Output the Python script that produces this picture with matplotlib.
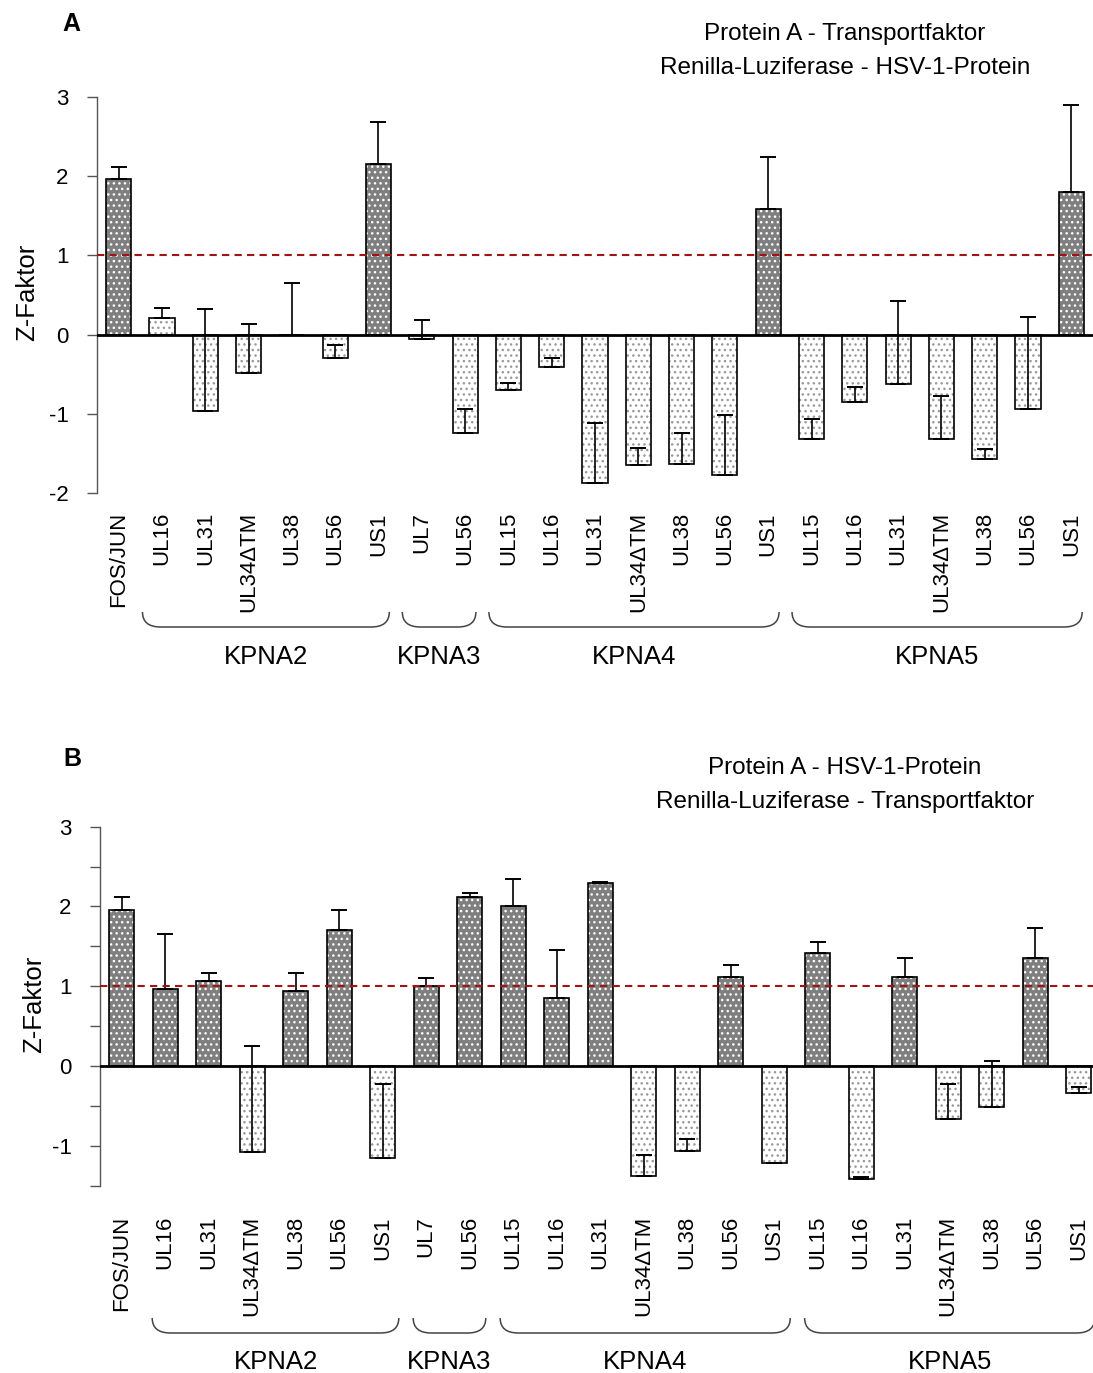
import matplotlib
matplotlib.use("Agg")
import matplotlib.pyplot as plt
import matplotlib.transforms as mtransforms
from matplotlib.path import Path
from matplotlib.patches import PathPatch
import numpy as np

plt.rcParams['font.family'] = ['Liberation Sans', 'DejaVu Sans']
plt.rcParams['hatch.linewidth'] = 1.0

# ---------------- data ----------------
labels = ["FOS/JUN",
          "UL16", "UL31", "UL34\u0394TM", "UL38", "UL56", "US1",
          "UL7", "UL56",
          "UL15", "UL16", "UL31", "UL34\u0394TM", "UL38", "UL56", "US1",
          "UL15", "UL16", "UL31", "UL34\u0394TM", "UL38", "UL56", "US1"]
groups = ["KPNA2", "KPNA3", "KPNA4", "KPNA5"]
group_first = [1, 7, 9, 16]
group_last = [6, 8, 15, 22]

values_a = [1.96, 0.21, -0.96, -0.48, -0.01, -0.29, 2.16,
            -0.06, -1.24,
            -0.70, -0.41, -1.87, -1.65, -1.63, -1.77, 1.58,
            -1.32, -0.85, -0.63, -1.32, -1.57, -0.94, 1.80]
errors_a = [0.16, 0.13, 1.28, 0.61, 0.66, 0.16, 0.53,
            0.25, 0.30,
            0.09, 0.12, 0.75, 0.22, 0.39, 0.75, 0.66,
            0.26, 0.19, 1.05, 0.55, 0.12, 1.16, 1.10]

values_b = [1.96, 0.96, 1.06, -1.08, 0.94, 1.70, -1.15,
            1.00, 2.12,
            2.00, 0.85, 2.30, -1.38, -1.06, 1.12, -1.21,
            1.42, -1.42, 1.12, -0.66, -0.51, 1.36, -0.34]
errors_b = [0.16, 0.70, 0.11, 1.33, 0.23, 0.26, 0.93,
            0.10, 0.05,
            0.34, 0.60, 0.01, 0.26, 0.14, 0.15, 0.0,
            0.13, 0.03, 0.24, 0.44, 0.57, 0.37, 0.08]

titles_a = ["Protein A - Transportfaktor", "Renilla-Luziferase - HSV-1-Protein"]
titles_b = ["Protein A - HSV-1-Protein", "Renilla-Luziferase - Transportfaktor"]
threshold = 1.0

# ---------------- figure ----------------
W, H = 1093, 1373
fig = plt.figure(figsize=(W / 100, H / 100), dpi=100)


def fx(px):
    return px / W


def fy(py):
    return 1 - py / H


DARK = '#7f7f7f'


def draw_panel(ax, values, errors, dark_thresh, xlim, ylim, minor, label_top,
               brace_y, brace_off, group_y, ylabel_xy, letter, letter_xy,
               titles, title_ys):
    x = np.arange(len(values))
    vals = np.array(values)
    errs = np.array(errors)
    dark = vals > dark_thresh
    width = 0.58
    for xi, v, d in zip(x, vals, dark):
        if d:
            ax.bar(xi, v, width=width, color=DARK, edgecolor='white',
                   hatch='...', linewidth=0, zorder=2)
        else:
            ax.bar(xi, v, width=width, color='white', edgecolor='#9a9a9a',
                   hatch='...', linewidth=0, zorder=2)
    ax.bar(x, vals, width=width, fill=False, edgecolor='black',
           linewidth=1.2, zorder=3)
    ax.errorbar(x, vals, yerr=[np.zeros_like(errs), errs], fmt='none',
                ecolor='black', elinewidth=1.2, capsize=5.5, capthick=1.4,
                zorder=4)
    ax.axhline(1, color='#a01414', lw=1.5, ls=(0, (3.5, 2.5)), zorder=5)
    ax.axhline(0, color='black', lw=2.0, zorder=6)

    ax.set_xlim(*xlim)
    ax.set_ylim(*ylim)
    for s in ['top', 'right', 'bottom']:
        ax.spines[s].set_visible(False)
    ax.spines['left'].set_color('#555555')
    ax.spines['left'].set_linewidth(1.0)
    ax.set_xticks([])
    yt = np.arange(np.ceil(ylim[0]), ylim[1] + 0.01, 1.0)
    ax.set_yticks(yt)
    ax.set_yticklabels([f"{int(t)}" for t in yt])
    if minor:
        ax.set_yticks(np.arange(ylim[0], ylim[1] + 0.01, 0.5), minor=True)
        ax.tick_params(axis='y', which='minor', length=7.5, width=1.0,
                       color='#555555', direction='out')
    ax.tick_params(axis='y', which='major', length=7.5, width=1.0,
                   color='#555555', direction='out', labelsize=16, pad=13)

    trans = mtransforms.blended_transform_factory(ax.transData, fig.transFigure)
    for xi, lab in zip(x, labels):
        ax.text(xi, fy(label_top), lab, transform=trans, rotation=90,
                ha='center', va='top', fontsize=16, clip_on=False)

    # braces
    ytop, ybot = fy(brace_y[0]), fy(brace_y[1])
    r = 0.42
    for g, a, b in zip(groups, group_first, group_last):
        x0 = a + brace_off[0]
        x1 = b + brace_off[1]
        verts = [(x0, ytop), (x0, ybot), (x0 + r, ybot),
                 (x1 - r, ybot),
                 (x1, ybot), (x1, ytop)]
        codes = [Path.MOVETO, Path.CURVE3, Path.CURVE3,
                 Path.LINETO, Path.CURVE3, Path.CURVE3]
        patch = PathPatch(Path(verts, codes), transform=trans, fill=False,
                          edgecolor='#444444', lw=1.1, clip_on=False)
        ax.add_artist(patch)
        ax.text((x0 + x1) / 2, fy(group_y), g, transform=trans, ha='center',
                va='center', fontsize=18.5, clip_on=False)

    fig.text(fx(ylabel_xy[0]), fy(ylabel_xy[1]), "Z-Faktor", rotation=90,
             ha='center', va='center', fontsize=18.5)
    fig.text(fx(letter_xy[0]), fy(letter_xy[1]), letter, ha='center',
             va='center', fontsize=18, fontweight='bold')
    for t, ty in zip(titles, title_ys):
        fig.text(fx(845), fy(ty), t, ha='center', va='center', fontsize=17.5)


# Panel A
ax_a = fig.add_axes([fx(97), fy(493), fx(1093 - 97), (493 - 97) / H])
draw_panel(ax_a, values_a, errors_a, threshold, (-0.5, 22.5), (-2, 3), False,
           label_top=512, brace_y=(612, 627), brace_off=(-0.45, 0.25),
           group_y=657, ylabel_xy=(27, 292), letter="A", letter_xy=(71, 24),
           titles=titles_a, title_ys=(34, 68))

# Panel B
ax_b = fig.add_axes([fx(100), fy(1185.7), fx(993), (1185.7 - 826.7) / H])
draw_panel(ax_b, values_b, errors_b, 0.0, (-0.5, 22.33), (-1.5, 3), True,
           label_top=1216, brace_y=(1318, 1333), brace_off=(-0.3, 0.37),
           group_y=1362, ylabel_xy=(34, 1004), letter="B", letter_xy=(72, 759),
           titles=titles_b, title_ys=(768, 802))

fig.savefig("out.png", dpi=100)
